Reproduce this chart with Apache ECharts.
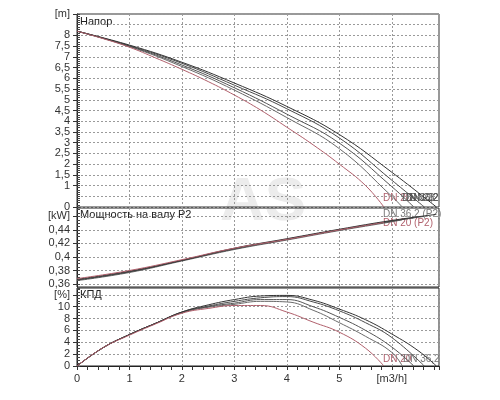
<!DOCTYPE html>
<html>
<head>
<meta charset="utf-8">
<script src="https://cdn.jsdelivr.net/npm/echarts@6/dist/echarts.min.js"></script>
<style>
  html, body { margin: 0; padding: 0; background: #fff; }
  #chart { width: 500px; height: 400px; }
</style>
</head>
<body>
<div id="chart"></div>
<script>
// flow [m3/h] -> head [m]
const headDN20 = [[0, 8.2], [0.5, 7.85], [1, 7.45], [1.5, 6.95], [2, 6.42], [2.5, 5.85], [3, 5.22], [3.5, 4.52], [4, 3.72], [4.5, 2.9], [5, 2.0], [5.5, 1.0], [5.85, 0]]
const headA = [[0, 8.2], [1, 7.48], [2, 6.55], [3, 5.45], [4, 4.17], [5, 2.72], [6, 0.5], [6.2, 0]]
const headB = [[0, 8.2], [1, 7.5], [2, 6.62], [3, 5.56], [4, 4.33], [5, 2.98], [6, 0.95], [6.42, 0]]
const headC = [[0, 8.2], [1, 7.52], [2, 6.7], [3, 5.68], [4, 4.58], [5, 3.22], [6, 1.25], [6.62, 0]]
const headD = [[0, 8.2], [1, 7.55], [2, 6.75], [3, 5.78], [4, 4.69], [5, 3.38], [6, 1.62], [6.85, 0]]

// flow -> shaft power P2 [kW]
const powerDN20 = [[0, 0.368], [1, 0.38], [2, 0.396], [3, 0.413], [4, 0.426], [5, 0.44], [5.85, 0.451]]
const powerA = [[0, 0.365], [1, 0.377], [2, 0.394], [3, 0.411], [4, 0.425], [5, 0.439], [6, 0.452], [6.2, 0.455]]
const powerB = [[0, 0.366], [1, 0.378], [2, 0.395], [3, 0.412], [4, 0.426], [5, 0.44], [6, 0.453], [6.42, 0.458]]
const powerC = [[0, 0.366], [1, 0.378], [2, 0.395], [3, 0.412], [4, 0.426], [5, 0.44], [6, 0.453], [6.62, 0.46]]
const powerD = [[0, 0.367], [1, 0.379], [2, 0.395], [3, 0.413], [4, 0.427], [5, 0.441], [6, 0.454], [6.85, 0.463]]

// flow -> efficiency [%]
const effDN20 = [[0, 0], [0.5, 3.1], [1, 5.2], [1.5, 7.1], [2, 8.9], [2.5, 9.7], [3, 10.2], [3.5, 10.2], [4, 9.1], [4.5, 7.4], [5, 5.7], [5.5, 3.0], [5.85, 0]]
const effA = [[0, 0], [0.5, 3.1], [1, 5.3], [1.5, 7.2], [2, 9.0], [2.5, 9.9], [3, 10.4], [3.5, 10.9], [4, 10.8], [4.5, 9.4], [5, 7.3], [5.5, 5.0], [6, 2.3], [6.2, 0]]
const effB = [[0, 0], [0.5, 3.1], [1, 5.3], [1.5, 7.2], [2, 9.0], [2.5, 10.0], [3, 10.6], [3.5, 11.2], [4, 11.2], [4.5, 10.0], [5, 8.2], [5.5, 6.0], [6, 3.2], [6.42, 0]]
const effC = [[0, 0], [0.5, 3.1], [1, 5.3], [1.5, 7.2], [2, 9.1], [2.5, 10.1], [3, 10.9], [3.5, 11.5], [4, 11.7], [4.5, 10.8], [5, 9.3], [5.5, 7.3], [6, 4.8], [6.62, 0]]
const effD = [[0, 0], [0.5, 3.1], [1, 5.3], [1.5, 7.2], [2, 9.1], [2.5, 10.3], [3, 11.2], [3.5, 11.8], [4, 11.9], [4.5, 11.1], [5, 9.6], [5.5, 7.8], [6, 5.4], [6.5, 2.6], [6.85, 0]]

const powerTicks = [0.36, 0.38, 0.4, 0.42, 0.44, 0.46]
const powerMinorTicks = [0.36, 0.365, 0.37, 0.375, 0.38, 0.385, 0.39, 0.395, 0.4, 0.405, 0.41, 0.415, 0.42, 0.425, 0.43, 0.435, 0.44, 0.445, 0.45, 0.455, 0.46, 0.465, 0.47]
const effTicks = [0, 2, 4, 6, 8, 10, 12]
const xLabels = { 0: '0', 1: '1', 2: '2', 3: '3', 4: '4', 5: '5', 6: '[m3/h]' }

const RED = '#b0606c'
const GRAYS = ['#6a6a6a', '#555', '#4a4a4a', '#333']
const FONT = 'Liberation Sans, Arial, sans-serif'

const comma = (v) => String(+v.toFixed(3)).replace('.', ',')

const chart = echarts.init(document.getElementById('chart'))

const dashed = { show: true, lineStyle: { color: '#9a9a9a', type: [2, 2], width: 1 } }

function xAxisFor(gridIndex, bottom) {
  return {
    type: 'value',
    gridIndex,
    min: 0,
    max: 6.9,
    interval: 1,
    axisLine: { show: bottom, lineStyle: { color: '#222' } },
    axisTick: { show: bottom, length: 4, lineStyle: { color: '#333' } },
    minorTick: { show: bottom, splitNumber: 5, length: 4, lineStyle: { color: '#333' } },
    axisLabel: {
      show: bottom,
      margin: 7,
      fontSize: 11,
      fontFamily: FONT,
      color: '#333',
      showMaxLabel: false,
      formatter: (v) => xLabels[Math.round(v)] ?? ''
    },
    splitLine: dashed
  }
}

const labelStyle = { fontSize: 11, fontFamily: FONT, color: '#333', margin: 7, showMinLabel: true, showMaxLabel: true, hideOverlap: false }

function lineSeries(name, data, color, xi, yi) {
  return {
    name,
    type: 'line',
    xAxisIndex: xi,
    yAxisIndex: yi,
    data,
    smooth: 0.45,
    showSymbol: false,
    z: color === RED ? 4 : 3,
    lineStyle: { color, width: 1 },
    emphasis: { disabled: true }
  }
}

const innerTicks = (gridIndex, min, max, extra) => Object.assign({
  type: 'value',
  gridIndex,
  min,
  max,
  position: 'left',
  axisLine: { show: false },
  axisTick: { show: true, inside: true, length: 3, lineStyle: { color: '#444' } },
  axisLabel: { show: false },
  splitLine: { show: false }
}, extra)

const small = '10px ' + FONT

chart.setOption({
  animation: false,
  backgroundColor: '#fff',
  grid: [
    { left: 77, right: 61, top: 14, height: 193, show: true, borderColor: '#333', borderWidth: 1 },
    { left: 77, right: 61, top: 208, height: 79, show: true, borderColor: '#222', borderWidth: 1 },
    { left: 77, right: 61, top: 288, height: 78, show: true, borderColor: '#222', borderWidth: 1 }
  ],
  xAxis: [xAxisFor(0, false), xAxisFor(1, false), xAxisFor(2, true)],
  yAxis: [
    {
      type: 'value', gridIndex: 0, min: 0, max: 9, interval: 0.5,
      axisLine: { show: true, lineStyle: { color: '#222' } },
      axisTick: { show: true, length: 4, lineStyle: { color: '#333' } },
      axisLabel: Object.assign({ formatter: (v) => (v === 9 ? '[m]' : comma(v)) }, labelStyle),
      splitLine: dashed
    },
    {
      type: 'value', gridIndex: 1, min: 0.3556, max: 0.4724,
      axisLine: { show: true, lineStyle: { color: '#222' } },
      axisTick: { show: true, length: 4, customValues: powerTicks, lineStyle: { color: '#333' } },
      axisLabel: Object.assign({
        customValues: powerTicks,
        formatter: (v) => (Math.abs(v - 0.46) < 1e-6 ? '[kW]' : comma(v))
      }, labelStyle),
      splitLine: dashed
    },
    {
      type: 'value', gridIndex: 2, min: 0, max: 13.15,
      axisLine: { show: true, lineStyle: { color: '#222' } },
      axisTick: { show: true, length: 4, customValues: effTicks, lineStyle: { color: '#333' } },
      axisLabel: Object.assign({
        customValues: effTicks,
        formatter: (v) => (v === 12 ? '[%]' : String(v))
      }, labelStyle),
      splitLine: dashed
    },
    innerTicks(0, 0, 9, { interval: 0.1 }),
    innerTicks(1, 0.3556, 0.4724, { axisTick: { show: true, inside: true, length: 3, customValues: powerMinorTicks, lineStyle: { color: '#444' } } }),
    innerTicks(2, 0, 13.15, { interval: 0.5 })
  ],
  graphic: [
    {
      type: 'text', left: 220, top: 172, z: -10, silent: true,
      style: { text: 'AS', font: 'bold 62px ' + FONT, fill: '#ececec' }
    },
    { type: 'text', left: 80, top: 16, style: { text: 'Напор', font: '11px ' + FONT, fill: '#222' } },
    { type: 'text', left: 80, top: 209, style: { text: 'Мощность на валу P2', font: '11px ' + FONT, fill: '#222' } },
    { type: 'text', left: 80, top: 289, style: { text: 'КПД', font: '11px ' + FONT, fill: '#222' } },
    // curve names, overlapping as in the source
    { type: 'text', left: 383, top: 193, style: { text: 'DN 20', font: small, fill: RED } },
    { type: 'text', left: 402, top: 193, style: { text: 'DN 36,2', font: small, fill: '#555' } },
    { type: 'text', left: 406, top: 193, style: { text: 'DN 28', font: small, fill: '#555' } },
    { type: 'text', left: 410, top: 193, style: { text: 'DN 32', font: small, fill: '#555' } },
    { type: 'text', left: 383, top: 209, style: { text: 'DN 36,2 (P2)', font: small, fill: '#777' } },
    { type: 'text', left: 383, top: 218, style: { text: 'DN 20 (P2)', font: small, fill: RED } },
    { type: 'text', left: 383, top: 354, style: { text: 'DN 20', font: small, fill: RED } },
    { type: 'text', left: 403, top: 354, style: { text: 'DN 36,2', font: small, fill: '#777' } }
  ],
  series: [
    lineSeries('DN 25', headA, GRAYS[0], 0, 0),
    lineSeries('DN 28', headB, GRAYS[1], 0, 0),
    lineSeries('DN 32', headC, GRAYS[2], 0, 0),
    lineSeries('DN 36,2', headD, GRAYS[3], 0, 0),
    lineSeries('DN 20', headDN20, RED, 0, 0),
    lineSeries('DN 25 (P2)', powerA, GRAYS[0], 1, 1),
    lineSeries('DN 28 (P2)', powerB, GRAYS[1], 1, 1),
    lineSeries('DN 32 (P2)', powerC, GRAYS[2], 1, 1),
    lineSeries('DN 36,2 (P2)', powerD, GRAYS[3], 1, 1),
    lineSeries('DN 20 (P2)', powerDN20, RED, 1, 1),
    lineSeries('DN 25', effA, GRAYS[0], 2, 2),
    lineSeries('DN 28', effB, GRAYS[1], 2, 2),
    lineSeries('DN 32', effC, GRAYS[2], 2, 2),
    lineSeries('DN 36,2', effD, GRAYS[3], 2, 2),
    lineSeries('DN 20', effDN20, RED, 2, 2)
  ]
})
</script>
</body>
</html>
